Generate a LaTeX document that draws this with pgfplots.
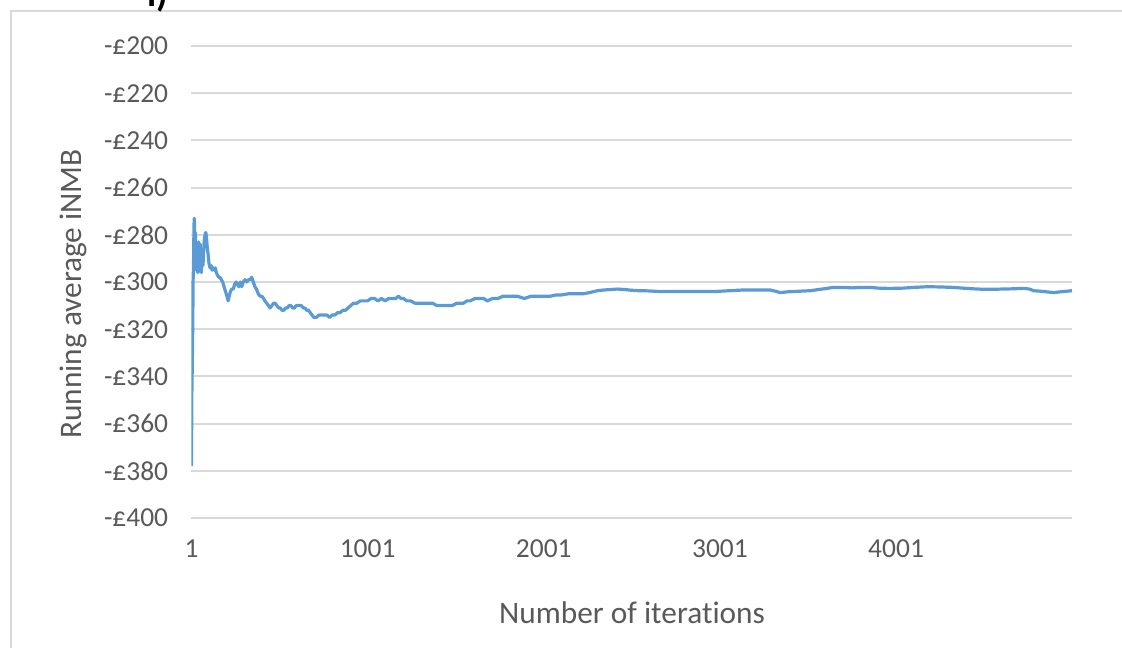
\documentclass[border=0pt]{standalone}
\usepackage{fontspec}
\setmainfont{Carlito}[Ligatures=NoCommon]
\usepackage{pgfplots}
\pgfplotsset{compat=1.18}
\definecolor{linblue}{HTML}{5B9BD5}
\definecolor{gridgray}{HTML}{D9D9D9}
\definecolor{txtgray}{HTML}{595959}
\begin{document}
\begin{tikzpicture}[x=0.75pt,y=0.75pt]
\useasboundingbox (0,0) rectangle (1122,648);
\draw[gridgray, line width=2.2pt] (11,-20) -- (11,637) -- (1140,637);
\node[anchor=base, font=\bfseries\fontsize{28}{34}\selectfont] at (158,641) {i)};
\node[font=\fontsize{23.5}{28}\selectfont, text=txtgray] at (632,35) {Number of iterations};
\node[font=\fontsize{23.5}{28}\selectfont, text=txtgray, rotate=90] at (73,354) {Running average iNMB};
\begin{axis}[
  at={(143.625pt,97.5pt)}, anchor=south west,
  scale only axis, width=660.4pt, height=354pt,
  xmin=1, xmax=5000, ymin=-400, ymax=-200,
  axis line style={draw=none},
  tick style={draw=none},
  ymajorgrids,
  grid style={gridgray, line width=1.6pt},
  xtick={1,1001,2001,3001,4001},
  xticklabels={1,1001,2001,3001,4001},
  ytick={-400,-380,-360,-340,-320,-300,-280,-260,-240,-220,-200},
  yticklabels={-£400,-£380,-£360,-£340,-£320,-£300,-£280,-£260,-£240,-£220,-£200},
  ticklabel style={font=\fontsize{20.6}{24}\selectfont, text=txtgray},
  yticklabel style={xshift=-14pt},
  xticklabel style={yshift=-12.6pt},
]
\addplot[linblue, line width=2.4pt, line join=round, no markers] coordinates {
(1,-378) (2,-360) (3,-348) (4,-341) (5,-338) (6,-332) (7,-325) (8,-319) (9,-310) (10,-300)
(11,-296) (12,-296) (13,-290) (14,-283) (15,-278) (16,-274) (17,-273) (18,-276) (19,-284) (20,-292)
(21,-287) (22,-281) (23,-279) (24,-286) (25,-294) (26,-289) (27,-283) (28,-288) (29,-295) (31,-290)
(33,-284) (35,-291) (37,-296) (39,-289) (41,-283) (43,-290) (45,-295) (48,-288) (51,-284) (54,-292)
(57,-296) (60,-290) (63,-286) (66,-293) (69,-289) (72,-284) (75,-281) (78,-280) (82,-279) (86,-281)
(90,-285) (95,-288) (100,-292) (106,-294) (112,-293) (118,-295) (124,-294) (130,-295) (136,-294) (142,-296)
(148,-297) (155,-298) (162,-298) (170,-299) (178,-300) (186,-302) (194,-304) (202,-306) (209,-308) (215,-306)
(222,-304) (230,-303) (238,-303) (246,-301) (254,-300) (262,-301) (270,-302) (278,-300) (286,-302) (295,-300)
(305,-299) (315,-300) (325,-299) (333,-299) (343,-298) (352,-300) (361,-302) (370,-303) (380,-305) (390,-306)
(400,-306) (410,-307) (418,-308) (428,-309) (438,-310) (447,-311) (457,-310) (467,-309) (476,-309) (486,-310)
(496,-311) (506,-311) (515,-312) (525,-312) (535,-311) (545,-311) (555,-310) (565,-310) (575,-311) (585,-311)
(595,-310) (605,-310) (615,-310) (625,-310) (635,-311) (645,-311) (655,-312) (665,-312) (675,-313) (685,-314)
(695,-315) (710,-315) (725,-314) (740,-314) (755,-314) (770,-314) (785,-315) (800,-314) (815,-314) (830,-313)
(845,-313) (860,-312) (875,-312) (890,-311) (905,-310) (920,-309) (940,-309) (960,-308) (980,-308) (1000,-308)
(1020,-307) (1040,-307) (1060,-308) (1080,-307) (1100,-308) (1120,-307) (1140,-307) (1160,-307) (1176,-306) (1190,-307)
(1205,-307) (1223,-308) (1245,-308) (1270,-309) (1295,-309) (1320,-309) (1345,-309) (1370,-309) (1394,-310) (1420,-310)
(1451,-310) (1480,-310) (1507,-309) (1530,-309) (1545,-309) (1565,-308) (1583,-308) (1610,-307) (1640,-307) (1660,-307)
(1680,-308) (1710,-307) (1740,-307) (1770,-306) (1810,-306) (1850,-306) (1890,-307) (1930,-306) (1970,-306) (2000,-306)
(2040,-306) (2070,-305.5) (2100,-305.5) (2140,-305) (2180,-305) (2225,-305) (2260,-304.5) (2305,-303.7) (2340,-303.4) (2380,-303.2)
(2420,-303) (2460,-303.2) (2500,-303.5) (2540,-303.7) (2566,-303.7) (2600,-303.8) (2650,-304) (2700,-304) (2750,-304) (2793,-304)
(2840,-304) (2890,-304) (2940,-304) (2986,-304) (3030,-303.8) (3080,-303.6) (3130,-303.4) (3173,-303.4) (3230,-303.4) (3287,-303.4)
(3320,-304) (3344,-304.5) (3380,-304.2) (3430,-304) (3480,-303.8) (3514,-303.7) (3560,-303.2) (3600,-302.8) (3645,-302.3) (3700,-302.3)
(3750,-302.5) (3800,-302.3) (3855,-302.3) (3900,-302.6) (3950,-302.7) (3986,-302.7) (4040,-302.6) (4100,-302.3) (4180,-302) (4250,-302.1)
(4327,-302.3) (4380,-302.6) (4440,-302.9) (4500,-303.1) (4554,-303.1) (4600,-303) (4660,-302.9) (4725,-302.7) (4760,-303) (4781,-303.7)
(4820,-303.9) (4860,-304.2) (4895,-304.5) (4930,-304.2) (4970,-303.9) (5000,-303.7)
};
\end{axis}
\end{tikzpicture}
\end{document}
